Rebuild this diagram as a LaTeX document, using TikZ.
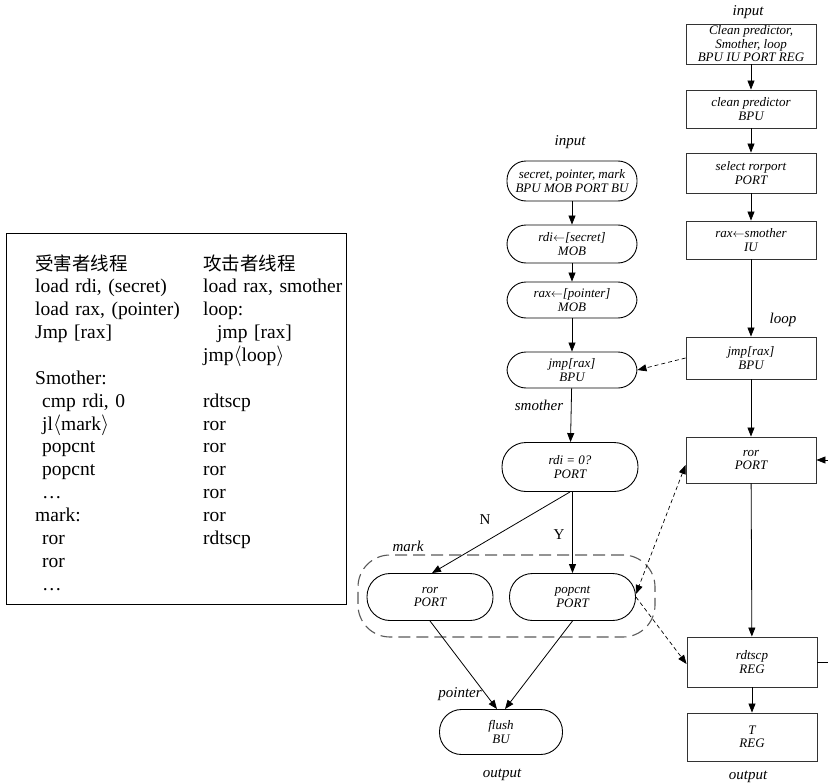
\documentclass[tikz,border=0pt]{standalone}
\usepackage{fontspec}
\setmainfont{Liberation Serif}
\newfontfamily\cjk{Noto Sans CJK SC}
\usetikzlibrary{arrows.meta}
\begin{document}
\begin{tikzpicture}[x=1pt,y=-1pt,
  every node/.style={inner sep=0pt},
  nodetext/.style={font=\itshape\fontsize{13}{13.5}\selectfont, align=center},
  term/.style={nodetext, draw, line width=0.9pt, rounded corners=#1},
  term/.default=19pt,
  proc/.style={nodetext, draw=black!80, line width=0.9pt, minimum width=130pt},
  lbl/.style={font=\itshape\fontsize{15}{15}\selectfont},
  yn/.style={font=\fontsize{15}{15}\selectfont},
  code/.style={font=\fontsize{19.5}{22.86}\selectfont, text width=160pt, align=left, anchor=base west},
  flow/.style={-{Triangle[length=9pt,width=7pt]}, line width=0.8pt},
  link/.style={dash pattern=on 4pt off 3pt, line width=0.7pt},
  group/.style={draw=black!65, dash pattern=on 12pt off 6pt, line width=1.1pt, rounded corners=32pt}
]
\useasboundingbox (0,0) rectangle (828,784);

% ---------- code listing ----------
\node[draw, line width=0.8pt, minimum width=340pt, minimum height=371pt] (codebox) at (176,418.5) {};
\node[code] (victim) at (35,270) {%
  {\cjk\fontsize{18.5}{22.86}\selectfont 受害者线程}\\
  load rdi, (secret)\\
  load rax, (pointer)\\
  Jmp [rax]\\
  ~\\
  Smother:\\
  \hspace*{7pt}cmp rdi, 0\\
  \hspace*{7pt}jl$\langle$mark$\rangle$\\
  \hspace*{7pt}popcnt\\
  \hspace*{7pt}popcnt\\
  \hspace*{7pt}\dots\\
  mark:\\
  \hspace*{7pt}ror\\
  \hspace*{7pt}ror\\
  \hspace*{7pt}\dots};
\node[code, text width=140pt] (attacker) at (203,270) {%
  {\cjk\fontsize{18.5}{22.86}\selectfont 攻击者线程}\\
  \mbox{load rax, smother}\\
  loop:\\
  \hspace*{14pt}jmp [rax]\\
  jmp$\langle$loop$\rangle$\\
  ~\\
  rdtscp\\
  ror\\
  ror\\
  ror\\
  ror\\
  ror\\
  rdtscp};

% ---------- victim flow ----------
\node[lbl] (inL) at (570,142) {input};
\node[term, minimum width=130pt, minimum height=40pt] (n1) at (572,181) {secret, pointer, mark\\BPU MOB PORT BU};
\node[term, minimum width=130pt, minimum height=38pt] (n2) at (572,244) {rdi$\leftarrow$[secret]\\MOB};
\node[term, minimum width=130pt, minimum height=36pt] (n3) at (572,300) {rax$\leftarrow$[pointer]\\MOB};
\node[term, minimum width=130pt, minimum height=36pt] (n4) at (572,370) {jmp[rax]\\BPU};
\node[lbl] (lsm) at (539,405) {smother};
\node[term=24pt, minimum width=136pt, minimum height=49pt] (n5) at (570,467) {rdi = 0?\\PORT};
\node[yn] (lN) at (485,520) {N};
\node[yn] (lY) at (559,535) {Y};
\node[group, minimum width=297pt, minimum height=82pt] (markgrp) at (506.5,596) {};
\node[lbl] (lmk) at (408,546) {mark};
\node[term=23pt, minimum width=126pt, minimum height=47pt] (ror) at (430,597) {ror\\PORT};
\node[term=23pt, minimum width=126pt, minimum height=47pt] (pop) at (572.5,597) {popcnt\\PORT};
\node[lbl] (lpt) at (460,694) {pointer};
\node[term=22pt, minimum width=123pt, minimum height=45pt] (flush) at (501,732) {flush\\BU};
\node[lbl] (outL) at (502,775) {output};

\draw[flow] (n1) -- (n2);
\draw[flow] (n2) -- (n3);
\draw[flow] (n3) -- (n4);
\draw[flow] (n4) -- (n5);
\draw[flow] (n5.south) -- ([xshift=2pt]ror.north);
\draw[flow] (n5.south -| pop.north) -- (pop.north);
\draw[flow] (ror.south) -- ([xshift=-4pt]flush.north);
\draw[flow] (pop.south) -- ([xshift=4pt]flush.north);

% ---------- attacker flow ----------
\node[lbl] (inR) at (748,12) {input};
\node[proc, minimum height=40pt] (r1) at (751,44) {Clean predictor,\\Smother, loop\\BPU IU PORT REG};
\node[proc, minimum height=38pt] (r2) at (751,109) {clean predictor\\BPU};
\node[proc, minimum height=40pt] (r3) at (751,173) {select rorport\\PORT};
\node[proc, minimum height=38pt] (r4) at (751,240) {rax$\leftarrow$smother\\IU};
\node[lbl] (llp) at (783,320) {loop};
\node[proc, minimum height=42pt] (r5) at (751,358) {jmp[rax]\\BPU};
\node[proc, minimum height=46pt] (r6) at (751,460) {ror\\PORT};
\node[proc, minimum height=50pt] (r7) at (752,662) {rdtscp\\REG};
\node[proc, minimum height=48pt] (r8) at (752,737) {T\\REG};
\node[lbl] (outR) at (748,777) {output};

\draw[flow] (r1) -- (r2);
\draw[flow] (r2) -- (r3);
\draw[flow] (r3) -- (r4);
\draw[flow] (r4) -- (r5);
\draw[flow] (r5) -- (r6);
\draw[flow] (r6) -- (r7);
\draw[flow] (r7) -- (r8);
\draw[flow] (r7.east) -- ++(20,0) |- (r6.east);

% ---------- cross-thread interference ----------
\draw[link, -{Triangle[length=9pt,width=7pt]}] (r5.west) -- (n4.east);
\draw[link, {Triangle[length=9pt,width=7pt]}-{Triangle[length=9pt,width=7pt]}] ([yshift=-5pt]r6.west) -- ([yshift=3pt]pop.east);
\draw[link, -{Triangle[length=9pt,width=7pt]}] (pop.east) -- ([yshift=-2pt]r7.west);
\end{tikzpicture}
\end{document}
